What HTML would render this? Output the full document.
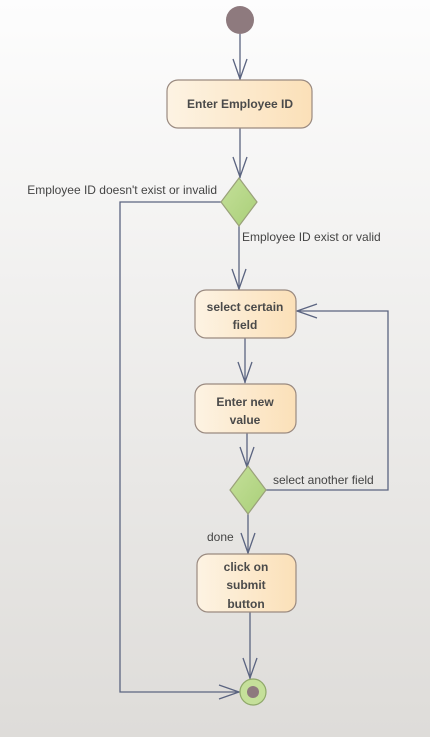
<!DOCTYPE html>
<html><head><meta charset="utf-8"><style>
html,body{margin:0;padding:0;width:430px;height:737px;overflow:hidden}
body{background:linear-gradient(#fdfdfd,#dedcd9)}
text{font-family:"Liberation Sans",sans-serif;font-size:12px;fill:#444}
.b{font-weight:bold;fill:#4a4a4a;text-anchor:middle}
</style></head><body>
<svg width="430" height="737" xmlns="http://www.w3.org/2000/svg">
<defs>
<linearGradient id="g" x1="0" x2="1" y1="0" y2="0"><stop offset="0" stop-color="#fdf3e3"/><stop offset="1" stop-color="#fbe0b8"/></linearGradient>
<linearGradient id="d" x1="0" x2="1" y1="0" y2="1"><stop offset="0" stop-color="#c5e09a"/><stop offset="1" stop-color="#a9cf78"/></linearGradient>
</defs>
<g stroke="#5b6480" stroke-width="1.3" fill="none">
<line x1="240" y1="34" x2="240" y2="80"/><polyline points="233,59 240,79 247,59"/>
<line x1="240" y1="128" x2="240" y2="178"/><polyline points="233,157 240,177 247,157"/>
<polyline points="221,202 120,202 120,692 240,692"/><polyline points="219,685 239,692 219,699"/>
<line x1="239" y1="226" x2="239" y2="290"/><polyline points="232,269 239,289 246,269"/>
<line x1="245" y1="338" x2="245" y2="383"/><polyline points="238,362 245,382 252,362"/>
<line x1="247" y1="433" x2="247" y2="467"/><polyline points="240,447 247,467 254,447"/>
<polyline points="266,490 388,490 388,311 297,311"/><polyline points="317,304 297,311 317,318"/>
<line x1="248" y1="514" x2="248" y2="554"/><polyline points="241,533 248,553 255,533"/>
<line x1="250" y1="612" x2="250" y2="679"/><polyline points="243,658 250,678 257,658"/>
</g>
<circle cx="240" cy="20" r="14" fill="#8e7a7e"/>
<g stroke="#9a8a80" stroke-width="1.2" fill="url(#g)">
<rect x="167" y="80" width="145" height="48" rx="11"/>
<rect x="195" y="290" width="101" height="48" rx="11"/>
<rect x="195" y="384" width="101" height="49" rx="11"/>
<rect x="197" y="554" width="99" height="58" rx="11"/>
</g>
<g stroke="#9aa17a" stroke-width="1.2" fill="url(#d)">
<polygon points="239,178 257,202 239,226 221,202"/>
<polygon points="248,466 266,490 248,514 230,490"/>
</g>
<circle cx="253" cy="692" r="13" fill="#c5e09a" stroke="#8fa86a" stroke-width="1.2"/>
<circle cx="253" cy="692" r="6" fill="#8e7a7e"/>
<text class="b" x="240" y="108">Enter Employee ID</text>
<text class="b" x="245" y="311">select certain</text>
<text class="b" x="245" y="329">field</text>
<text class="b" x="245" y="406">Enter new</text>
<text class="b" x="245" y="424">value</text>
<text class="b" x="246" y="571">click on</text>
<text class="b" x="246" y="589">submit</text>
<text class="b" x="246" y="608">button</text>
<text x="217" y="194" text-anchor="end">Employee ID doesn't exist or invalid</text>
<text x="242" y="241">Employee ID exist or valid</text>
<text x="273" y="484">select another field</text>
<text x="207" y="541">done</text>
</svg>
</body></html>
